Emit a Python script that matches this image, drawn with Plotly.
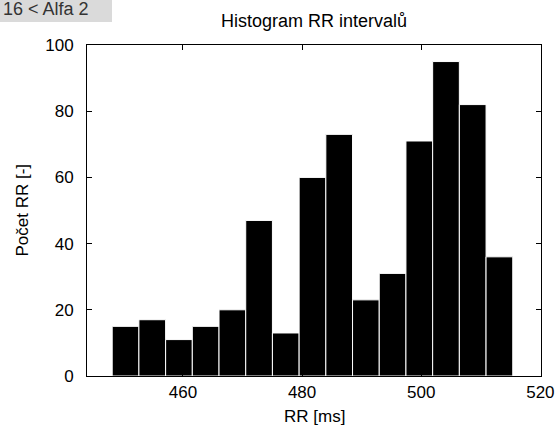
import plotly.graph_objects as go

# Histogram of RR intervals: 15 equal-width bins
bin_start = 448.13          # ms, left edge of the first bin
bin_width = 4.482           # ms
counts = [15, 17, 11, 15, 20, 47, 13, 60, 73, 23, 31, 71, 95, 82, 36]

x_ticks = [460, 480, 500, 520]
y_ticks = [0, 20, 40, 60, 80, 100]

centers = [bin_start + bin_width * (i + 0.5) for i in range(len(counts))]

fig = go.Figure()
fig.add_trace(go.Bar(
    x=centers,
    y=counts,
    width=bin_width,
    marker=dict(color="black", line=dict(color="white", width=1)),
    hoverinfo="x+y",
))

font_family = "Liberation Sans, Arial, sans-serif"
fs = 17

W, H = 558, 432
ML, MR, MT, MB = 87, 17, 45, 56
plot_w = W - ML - MR
plot_h = H - MT - MB


def px_x(px):
    """Figure pixel column -> paper x."""
    return (px - ML) / plot_w


def px_y(py):
    """Figure pixel row -> paper y."""
    return 1 - (py - MT) / plot_h


fig.update_layout(
    width=W,
    height=H,
    margin=dict(l=ML, r=MR, t=MT, b=MB),
    paper_bgcolor="white",
    plot_bgcolor="white",
    showlegend=False,
    font=dict(family=font_family, size=fs, color="black"),
    xaxis=dict(
        range=[443.9, 520.1],
        tickvals=x_ticks,
        ticktext=[str(v) for v in x_ticks],
        ticks="inside", ticklen=5, tickcolor="black",
        ticklabelstandoff=1,
        showline=True, linecolor="black", linewidth=1,
        mirror="ticks", showgrid=False, zeroline=False,
        automargin=False,
        tickfont=dict(size=fs),
    ),
    yaxis=dict(
        range=[0, 100],
        tickvals=y_ticks,
        ticks="inside", ticklen=5, tickcolor="black",
        ticklabelstandoff=9,
        showline=True, linecolor="black", linewidth=1,
        mirror="ticks", showgrid=False, zeroline=False,
        automargin=False,
        tickfont=dict(size=fs),
    ),
)

# Title and axis labels
fig.add_annotation(
    text="Histogram RR intervalů", xref="paper", yref="paper",
    x=0.5, xanchor="center", y=px_y(21), yanchor="middle",
    showarrow=False, font=dict(size=18, family=font_family, color="black"),
)
fig.add_annotation(
    text="RR [ms]", xref="paper", yref="paper",
    x=0.5, xanchor="center", y=px_y(416), yanchor="middle",
    showarrow=False, font=dict(size=fs, family=font_family, color="black"),
)
fig.add_annotation(
    text="Počet RR [-]", xref="paper", yref="paper",
    x=px_x(22), xanchor="center", y=0.5, yanchor="middle", textangle=-90,
    showarrow=False, font=dict(size=fs, family=font_family, color="black"),
)

# Gray label box in the top-left corner
fig.add_shape(
    type="rect", xref="paper", yref="paper",
    x0=px_x(0), x1=px_x(112),
    y0=px_y(22), y1=px_y(0),
    fillcolor="#dadada", line=dict(width=0), layer="below",
)
fig.add_annotation(
    text="16 < Alfa 2", xref="paper", yref="paper",
    x=px_x(1), xanchor="left",
    y=px_y(9), yanchor="middle",
    showarrow=False,
    font=dict(size=18, family=font_family, color="#333333"),
)

fig.write_html("out.html")
